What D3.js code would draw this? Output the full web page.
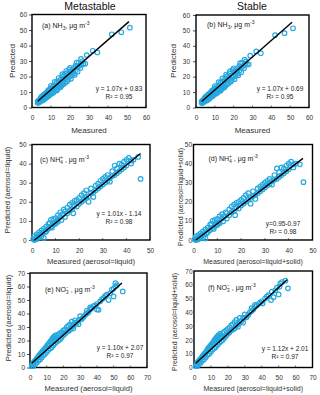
<!DOCTYPE html>
<html><head><meta charset="utf-8">
<script src="https://cdn.jsdelivr.net/npm/d3@7"></script>
<style>
html,body{margin:0;padding:0;background:#fff;}
svg{display:block;font-family:"Liberation Sans",Arial,sans-serif;}
</style></head>
<body><svg id="chart" width="320" height="395"></svg>
<script>
// ---- DATA ----
const columnTitles = ["Metastable", "Stable"];
const panelLetters = ["a","b","c","d","e","f"];
const species = ["NH3","NH3","NH4","NH4","NO3","NO3"];
const xTitles = ["Measured","Measured","Measured (aerosol=liquid)","Measured (aerosol=liquid+solid)","Measured (aerosol=liquid)","Measured (aerosol=liquid+solid)"];
const yTitles = ["Predicted","Predicted","Predicted (aerosol=liquid)","Predicted (aerosol=liquid+solid)","Predicted (aerosol=liquid)","Predicted (aerosol=liquid+solid)"];
const axisMax = [60,60,50,50,70,70];
const equations = ["y = 1.07x + 0.83","y = 1.07x + 0.69","y = 1.01x - 1.14","y=0.95-0.97","y = 1.10x + 2.07","y = 1.12x + 2.01"];
const r2Labels = ["R² = 0.95","R² = 0.95","R² = 0.98","R² = 0.98","R² = 0.97","R² = 0.97"];
const slopes = [1.07,1.07,1.01,0.95,1.10,1.12];
const intercepts = [0.83,0.69,-1.14,-0.97,2.07,2.01];
const lineFrom = [3,3,1,1,1,1];
const lineTo = [51,51,46,46,55,55];

const nh3Metastable = [[3,3],[3,4],[3.5,4.5],[3.5,3.2],[4,5],[4,3.5],[4.5,6],[4.5,4.2],[5,5],[5,7],[5.5,4.5],[5.5,6.5],[6,6.5],[6,8],[6,5],[6.5,5.5],[6.5,8.5],[7,7],[7,9],[7,5.8],[7.5,6.5],[7.5,9.5],[8,8.5],[8,10],[8,7],[8.5,7.5],[8.5,11],[9,9.5],[9,11],[9,7.8],[9.5,8.5],[9.5,12],[10,10],[10,12.5],[10,14],[10.5,9],[11,11.5],[11,13.5],[11,9.5],[11.5,10],[12,12],[12,14.5],[12,16.5],[12.5,11],[13,13.5],[13,16],[13,11],[13.5,12],[14,14],[14,17],[14,19],[14.5,13],[15,15.5],[15,18],[15,13],[15.5,14],[16,16],[16,20],[16,21.5],[16.5,15],[17,18],[17,21],[17.5,16],[18,19],[18,22],[18,23.5],[18.5,17],[19,18],[19,21],[19.5,24.5],[20,20],[20,23],[20,25.5],[20.5,18.5],[21,21],[21,24],[21.5,23],[22,22],[22,25.5],[22.5,21],[23,24],[23,27],[23.4,29],[24,23],[24,26],[24.5,29],[25,27],[25.5,25.5],[25.8,31.3],[26,28],[26.5,30],[27,28],[28,28.3],[28.8,33.8],[32,36.6],[34.4,35.5],[42,47.2],[47,48.5],[51.5,51.5]];
const nh3Stable = [[3,2.9],[3,3.9],[3.5,4.4],[3.5,3.1],[4,4.9],[4,3.4],[4.5,5.9],[4.5,4.1],[5,4.9],[5,6.9],[5.5,4.4],[5.5,6.4],[6,6.4],[6,7.9],[6,4.9],[6.5,5.4],[6.5,8.4],[7,6.9],[7,8.9],[7,5.7],[7.5,6.4],[7.5,9.4],[8,8.4],[8,9.9],[8,6.9],[8.5,7.4],[8.5,10.9],[9,9.4],[9,10.9],[9,7.7],[9.5,8.4],[9.5,11.9],[10,9.9],[10,12.4],[10,13.9],[10.5,8.9],[11,11.4],[11,13.4],[11,9.4],[11.5,9.9],[12,11.9],[12,14.4],[12,16.4],[12.5,10.9],[13,13.4],[13,15.9],[13,10.9],[13.5,11.9],[14,13.9],[14,16.9],[14,18.9],[14.5,12.9],[15,15.4],[15,17.9],[15,12.9],[15.5,13.9],[16,15.9],[16,19.9],[16,21.4],[16.5,14.9],[17,17.9],[17,20.9],[17.5,15.9],[18,18.9],[18,21.9],[18,23.4],[18.5,16.9],[19,17.9],[19,20.9],[19.5,24.4],[20,19.9],[20,22.9],[20,25.4],[20.5,18.4],[21,20.9],[21,23.9],[21.5,22.9],[22,21.9],[22,25.4],[22.5,20.9],[23,23.9],[23,26.9],[23.4,28.8],[24,22.9],[24,25.9],[24.5,28.9],[25,26.9],[25.5,25.4],[25.8,31],[26,27.9],[26.5,29.9],[27,27.9],[28,28],[28.8,33.6],[32,36.4],[34.4,35.2],[42,46.9],[47,48.2],[51.5,51.4]];
const nh4Liquid = [[0.5,0.5],[1,0],[1,2],[1.5,1],[2,3],[2,0.5],[2.5,2],[3,4],[3,1.5],[3.5,3],[4,2],[4,5],[4.5,3.5],[5,1],[5,6],[5.5,4],[6,7],[6,4.5],[6.5,5.5],[7,8.5],[7,6],[7.5,9],[8,7],[8,10.5],[8.5,6.5],[9,11],[9,8],[9.5,9],[10,11.5],[10,8.5],[10.5,10],[11,13],[11,9.5],[12,12],[12,14.5],[12.5,10.5],[13,13.5],[13.5,16],[14,12],[14,15],[15,14],[15,17],[16,15.5],[16,18.5],[17,16],[17,19.5],[17.5,14],[18,18],[18,20.5],[19,17.5],[19,21],[20,19],[20,22],[21,20],[21,23.5],[22,21],[22,24.5],[23,22],[23,26],[24,23],[24,20],[25,24.5],[25,27],[26,25],[26,22.5],[27,26],[27,28.5],[28,27],[28,29.5],[29,28],[29,31],[30,29],[30,32],[31,30],[31,33],[32,31],[32,34],[33,30.5],[33,32.5],[34,33.5],[34,36],[35,34],[35,39],[36,35],[36,37.5],[37,36],[37,40],[38,37],[38,39.5],[39,38],[39,41],[40,39],[40,42],[41,43],[42,40],[42,41.5],[43,42],[45,43.5],[46,32]];
const nh4Solid = [[0.5,0.3],[1,0],[1,1.8],[1.5,0.8],[2,2.5],[2,0.3],[2.5,1.5],[3,3.5],[3,1],[3.5,2.5],[4,1.5],[4,4.5],[4.5,3],[5,0.8],[5,5.5],[5.5,3.5],[6,6.5],[6,4],[6.5,5],[7,8],[7,5.2],[7.5,8.5],[8,6.3],[8,10],[8.5,5.8],[9,10.5],[9,7.3],[9.5,8.2],[10,11],[10,7.8],[10.5,9.2],[11,12.5],[11,8.8],[12,11.2],[12,13.5],[12.5,9.8],[13,12.5],[13.5,14.5],[14,11.2],[14,14],[15,13],[15,16],[16,14.5],[16,17.5],[17,15],[17,18.5],[17.5,13],[18,17],[18,19.5],[19,16.5],[19,20],[20,18],[20,21],[21,19],[21,22],[22,20],[22,23.5],[23,21],[23,24.5],[24,22],[24,19],[25,23],[25,25.5],[26,23.5],[26,21.5],[27,24.5],[27,27],[28,25.5],[28,28],[29,26.5],[29,29],[30,27.5],[30,30],[31,28.5],[31,31],[32,29.5],[32,32],[33,29],[33,31],[34,31.5],[34,34],[35,32],[35,37.5],[36,33],[36,35.5],[37,34],[37,38],[38,35],[38,37.5],[39,36],[39,39],[40,37],[40,40],[41,41],[42,38],[42,39.5],[43,40],[44.7,39.6],[46.2,30.3]];
const no3Liquid = [[1,1],[1.5,2.5],[2,1],[2,3.5],[2.5,4],[3,2.5],[3,5],[3.5,5.5],[4,3.5],[4,6.5],[4.5,7],[5,5],[5,8],[5.5,9],[6,6],[6,9.5],[6.5,10.5],[7,7.5],[7,11],[7.5,12],[8,9],[8,12.5],[8.5,13.5],[9,10],[9,14],[9.5,15],[10,11.5],[10,15.5],[10.5,16.5],[11,13],[11,17],[11.5,18],[12,14],[12,19],[12.5,19.5],[13,15],[13,20.5],[13.5,21.5],[14,16.5],[14,22],[14.5,23],[15,18],[15,21],[15.5,24],[16,19],[16,22.5],[17,20],[17,24.5],[18,21],[18,25.5],[19,22.5],[19,26],[20,24],[20,27.5],[21,25],[21,28],[22,26.5],[22,30],[23,27],[23,31],[24,28],[24,32],[25,30],[25,34],[26,31],[26,29],[27,33],[27,35],[28,33],[29,35],[29,32],[30,35.5],[30,38],[31,36],[32,37.5],[33,39],[34,40],[34,42],[35,41],[36,43],[36,44.5],[37,44],[38,45.5],[39,46],[40,47],[40,43],[41,42.7],[42,49],[43,50.5],[44,51.5],[45,53],[46,54],[47,50],[48,55],[49,57.6],[50,52.6],[50,58.5],[51,60],[51.1,62.5],[52,61],[55.5,56.3]];
const no3Solid = [[1,1],[1.5,2.5],[2,1],[2,3.5],[2.5,4],[3,2.5],[3,5],[3.5,5.5],[4,3.5],[4,6.5],[4.5,7],[5,5],[5,8],[5.5,9],[6,6],[6,9.5],[6.5,10.5],[7,7.5],[7,11],[7.5,12],[8,9],[8,13],[8.5,14],[9,10],[9,14.5],[9.5,15.5],[10,11.5],[10,16],[10.5,17],[11,13],[11,17.5],[11.5,18.5],[12,14],[12,19.5],[12.5,20.5],[13,15],[13,21],[13.5,22],[14,16.5],[14,22.5],[14.5,23.5],[15,18],[15,21.5],[15.5,24.5],[16,19],[16,23],[17,20],[17,25],[18,21.5],[18,26],[19,23],[19,27],[20,24.5],[20,28],[21,25.5],[21,29],[22,27],[22,30.5],[23,27.5],[23,31.5],[24,28.5],[24,33],[25,30.5],[25,34.5],[26,31.5],[26,29.5],[27,33.5],[27,36],[28,33.5],[29,36],[29,32.5],[30,36],[30,38.5],[31,36.5],[32,38],[33,40],[34,41],[34,43],[35,42],[36,44],[36,45.5],[37,45],[38,46],[39,47],[40,48],[40.5,46.5],[42,50],[43,51.5],[44,52.5],[45.5,48.9],[46,55],[47,51],[48,56],[49,58],[50,53],[50.5,58.6],[51,61],[52,62],[54,63],[55.5,57.4]];
const panelData = [nh3Metastable, nh3Stable, nh4Liquid, nh4Solid, no3Liquid, no3Solid];

// ---- LAYOUT ----
const boxes = [
  {x0:32, x1:146, y0:14.5, y1:107.5},
  {x0:196, x1:309, y0:15, y1:107.5},
  {x0:32, x1:150, y0:144.5, y1:240},
  {x0:193.5, x1:312.5, y0:144.5, y1:240},
  {x0:30, x1:147, y0:273, y1:367.5},
  {x0:194, x1:312.5, y0:271, y1:367.5}
];
const yTickSize = [3,3,3,0,3,0];
const yTickPad = [2,3,2.5,1.5,2,1.5];
const yTitlePos = [[12,61],[173,61],[7,190],[181,197],[8,318],[175,322]];
const titleFont = [8,8,7.6,7,7.6,7];
const xTitleY = [133,133,264,264,391,391];
const labelOffset = [[10,13.5],[11,12],[8,17.5],[15,16.5],[15,19],[14,19]];
const eqPos = [[119,91],[280,91],[119,216],[283,226],[120,350],[285,351]];

const blue = "#25a8e0";
const svg = d3.select("#chart");

svg.append("text").attr("x",90).attr("y",10).attr("text-anchor","middle")
  .attr("font-size",10.5).attr("fill","#111").text(columnTitles[0]);
svg.append("text").attr("x",252).attr("y",10).attr("text-anchor","middle")
  .attr("font-size",10.5).attr("fill","#111").text(columnTitles[1]);

function addSpecies(t, sp){
  if(sp==="NH3"){ t.append("tspan").text("NH"); t.append("tspan").attr("font-size",5).attr("dy",1.5).text("3"); t.append("tspan").attr("dy",-1.5).text(", "); }
  else {
    t.append("tspan").text(sp==="NH4" ? "NH" : "NO");
    t.append("tspan").attr("font-size",4.5).attr("dy",1.5).text(sp==="NH4" ? "4" : "3");
    t.append("tspan").attr("font-size",4.5).attr("dx",-2.4).attr("dy",-4.5).text(sp==="NH4" ? "+" : "−");
    t.append("tspan").attr("dy",3).text(" , ");
  }
  t.append("tspan").text("μg m");
  t.append("tspan").attr("font-size",5).attr("dy",-3).text("-3");
}

panelData.forEach((data,i)=>{
  const b = boxes[i];
  const x = d3.scaleLinear().domain([0,axisMax[i]]).range([b.x0,b.x1]);
  const y = d3.scaleLinear().domain([0,axisMax[i]]).range([b.y1,b.y0]);
  const g = svg.append("g");
  const ticks = d3.range(0, axisMax[i]+1, 10);

  g.append("g").attr("transform",`translate(0,${b.y1})`)
    .call(d3.axisBottom(x).tickValues(ticks).tickSize(0).tickPadding(8).tickFormat(d3.format("d")))
    .call(s=>s.select(".domain").remove())
    .call(s=>s.selectAll("text").attr("font-size",6.5).attr("fill","#333").attr("font-family","Liberation Sans, Arial, sans-serif"));
  g.append("g").attr("transform",`translate(${b.x0},0)`)
    .call(d3.axisLeft(y).tickValues(ticks).tickSize(yTickSize[i]).tickPadding(yTickPad[i]).tickFormat(d3.format("d")))
    .call(s=>s.select(".domain").remove())
    .call(s=>s.selectAll("line").attr("stroke","#555"))
    .call(s=>s.selectAll("text").attr("font-size",6.5).attr("fill","#333").attr("font-family","Liberation Sans, Arial, sans-serif"));
  g.selectAll(".xt").data(ticks).join("line")
    .attr("x1",d=>x(d)).attr("x2",d=>x(d)).attr("y1",b.y1).attr("y2",b.y1-2)
    .attr("stroke","#555").attr("stroke-width",0.8);

  g.append("rect").attr("x",b.x0).attr("y",b.y0).attr("width",b.x1-b.x0).attr("height",b.y1-b.y0)
    .attr("fill","none").attr("stroke","#000").attr("stroke-width",1.4);

  g.selectAll("circle").data(data).join("circle")
    .attr("cx",d=>x(d[0])).attr("cy",d=>y(d[1])).attr("r",2.3)
    .attr("fill","none").attr("stroke",blue).attr("stroke-width",1.15);

  g.append("line")
    .attr("x1",x(lineFrom[i])).attr("y1",y(slopes[i]*lineFrom[i]+intercepts[i]))
    .attr("x2",x(lineTo[i])).attr("y2",y(slopes[i]*lineTo[i]+intercepts[i]))
    .attr("stroke","#000").attr("stroke-width",1.4);

  const lab = g.append("text").attr("x",b.x0+labelOffset[i][0]).attr("y",b.y0+labelOffset[i][1])
    .attr("font-size",7).attr("fill","#222");
  lab.append("tspan").text("(" + panelLetters[i] + ")" + (i===3 ? "   " : " "));
  addSpecies(lab, species[i]);

  g.append("text").attr("x",eqPos[i][0]).attr("y",eqPos[i][1]).attr("text-anchor","middle")
    .attr("font-size",6.5).attr("fill","#222").text(equations[i]);
  g.append("text").attr("x",eqPos[i][0]).attr("y",eqPos[i][1]+8).attr("text-anchor","middle")
    .attr("font-size",6.5).attr("fill","#222").text(r2Labels[i]);

  g.append("text").attr("x",(b.x0+b.x1)/2).attr("y",xTitleY[i]).attr("text-anchor","middle")
    .attr("font-size",titleFont[i]).attr("fill","#333").text(xTitles[i]);
  g.append("text").attr("transform",`translate(${yTitlePos[i][0]},${yTitlePos[i][1]}) rotate(-90)`)
    .attr("text-anchor","middle").attr("dy","0.35em")
    .attr("font-size",titleFont[i]).attr("fill","#333").text(yTitles[i]);
});
</script></body></html>
